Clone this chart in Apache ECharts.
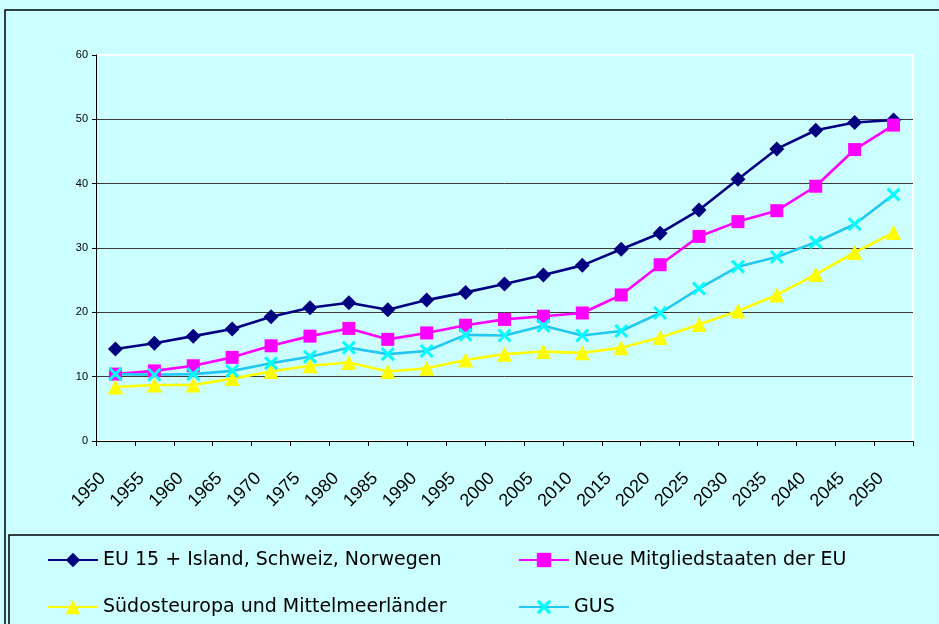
<!DOCTYPE html>
<html>
<head>
<meta charset="utf-8">
<script src="https://cdn.jsdelivr.net/npm/echarts@6/dist/echarts.min.js"></script>
<style>
  html, body { margin: 0; padding: 0; background: #ccffff; }
  #chart { width: 939px; height: 624px; }
</style>
</head>
<body>
<div id="chart"></div>
<script>
// Jahre (Kategorien der x-Achse)
const years = ['1950', '1955', '1960', '1965', '1970', '1975', '1980', '1985', '1990', '1995', '2000',
  '2005', '2010', '2015', '2020', '2025', '2030', '2035', '2040', '2045', '2050']

// Werte je Region
const eu15 = [14.3, 15.2, 16.3, 17.4, 19.3, 20.7, 21.5, 20.4, 21.9, 23.1, 24.4, 25.8, 27.3, 29.8, 32.3, 35.9, 40.7, 45.4, 48.3, 49.5, 49.9]
const neueMitglieder = [10.4, 10.9, 11.7, 13.0, 14.8, 16.3, 17.5, 15.8, 16.8, 18.0, 18.9, 19.4, 19.9, 22.7, 27.4, 31.8, 34.1, 35.8, 39.6, 45.3, 49.1]
const suedost = [8.4, 8.7, 8.7, 9.7, 10.8, 11.7, 12.2, 10.8, 11.3, 12.6, 13.5, 13.9, 13.7, 14.5, 16.1, 18.1, 20.2, 22.7, 25.9, 29.3, 32.4]
const gus = [10.4, 10.3, 10.4, 10.9, 12.1, 13.1, 14.5, 13.5, 14.0, 16.5, 16.4, 17.9, 16.4, 17.1, 19.9, 23.7, 27.1, 28.6, 30.9, 33.7, 38.3]

const yTicks = { min: 0, max: 60, interval: 10 }

const names = ['EU 15 + Island, Schweiz, Norwegen', 'Neue Mitgliedstaaten der EU',
  'Südosteuropa und Mittelmeerländer', 'GUS']

// X-Marker als gefüllte Fläche (ECharts hat kein Kreuz-Symbol)
const crossPath = 'path://M0,15L15,0L50,35L85,0L100,15L65,50L100,85L85,100L50,65L15,100L0,85L35,50Z'

const chart = echarts.init(document.getElementById('chart'))

function lineSeries(name, data, color, symbol, size, markerColor) {
  return {
    name,
    type: 'line',
    data,
    symbol,
    symbolSize: size,
    showAllSymbol: true,
    lineStyle: { color, width: 2.6 },
    itemStyle: { color: markerColor || color },
    emphasis: { disabled: true }
  }
}

const legendText = { fontFamily: 'DejaVu Sans', fontSize: 19, color: '#000', lineHeight: 20 }
const legendBase = {
  orient: 'vertical', top: 550, padding: 0, height: 74,
  itemWidth: 50, itemHeight: 18, itemGap: 27, textStyle: legendText
}

chart.setOption({
  backgroundColor: '#ccffff',
  animation: false,
  textStyle: { fontFamily: 'Liberation Sans, Arial, sans-serif' },
  grid: {
    left: 96, right: 26, top: 55, bottom: 183,
    show: true, backgroundColor: 'transparent', borderColor: '#ffffff', borderWidth: 2
  },
  legend: [
    Object.assign({}, legendBase, { left: 47, data: [names[0], names[2]] }),
    Object.assign({}, legendBase, { left: 518, data: [names[1], names[3]] })
  ],
  xAxis: {
    type: 'category',
    data: years,
    boundaryGap: true,
    axisLine: { lineStyle: { color: '#000', width: 1 } },
    axisTick: { show: true, length: 5, lineStyle: { color: '#000' } },
    axisLabel: {
      interval: 0, rotate: 45, fontSize: 18, color: '#000', margin: 22,
      padding: [0, 18, 0, 0]
    },
    splitLine: { show: false }
  },
  yAxis: {
    type: 'value',
    min: yTicks.min, max: yTicks.max, interval: yTicks.interval,
    axisLine: { show: true, lineStyle: { color: '#000', width: 1 } },
    axisTick: { show: true, length: 4, lineStyle: { color: '#000' } },
    axisLabel: { fontSize: 11, color: '#000', margin: 8 },
    splitLine: { show: true, showMaxLine: false, lineStyle: { color: '#3a3a3a', width: 1 } }
  },
  graphic: [
    {
      type: 'rect', silent: true, z: -10,
      shape: { x: 5, y: 10, width: 960, height: 640 },
      style: { fill: 'none', stroke: '#000', lineWidth: 1.5 }
    },
    {
      type: 'rect', silent: true, z: -10,
      shape: { x: 9, y: 535, width: 960, height: 120 },
      style: { fill: 'none', stroke: '#000', lineWidth: 1.5 }
    }
  ],
  series: [
    lineSeries(names[0], eu15, '#000080', 'diamond', 15),
    lineSeries(names[1], neueMitglieder, '#ff00ff', 'rect', 13),
    lineSeries(names[2], suedost, '#ffff00', 'triangle', 15),
    lineSeries(names[3], gus, '#22c8f0', crossPath, 14, '#00ffff')
  ]
})
</script>
</body>
</html>
